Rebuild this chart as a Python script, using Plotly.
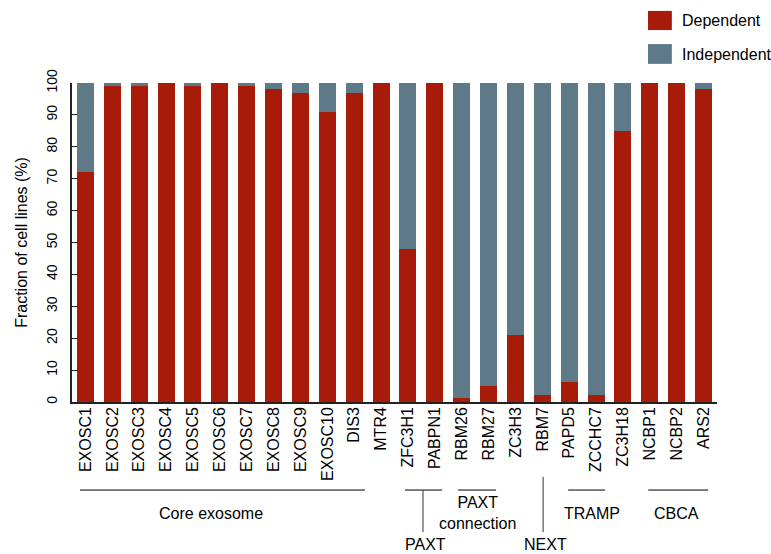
import plotly.graph_objects as go

genes = ["EXOSC1", "EXOSC2", "EXOSC3", "EXOSC4", "EXOSC5", "EXOSC6", "EXOSC7",
         "EXOSC8", "EXOSC9", "EXOSC10", "DIS3", "MTR4", "ZFC3H1", "PABPN1",
         "RBM26", "RBM27", "ZC3H3", "RBM7", "PAPD5", "ZCCHC7", "ZC3H18",
         "NCBP1", "NCBP2", "ARS2"]
dependent = [72, 99, 99, 100, 99, 100, 99, 98, 97, 91, 97, 100, 48, 100,
             1.2, 5, 21, 2.2, 6.3, 2.2, 85, 100, 100, 98]
independent = [28, 1, 1, 0, 1, 0, 1, 2, 3, 9, 3, 0, 52, 0,
               98.8, 95, 79, 97.8, 93.7, 97.8, 15, 0, 0, 2]
y_ticks = [0, 10, 20, 30, 40, 50, 60, 70, 80, 90, 100]

RED = "#A61C08"
GREY = "#5E7987"
FONT = "Liberation Sans, Arial, Helvetica, sans-serif"

fig = go.Figure()
fig.add_bar(x=genes, y=dependent, name="Dependent", marker=dict(color=RED, line=dict(width=0)))
fig.add_bar(x=genes, y=independent, name="Independent", marker=dict(color=GREY, line=dict(width=0)))

shapes = []
annotations = []

def hline(x0, x1, y):
    shapes.append(dict(type="line", xref="x", yref="paper", x0=x0, x1=x1, y0=y, y1=y,
                       line=dict(color="black", width=1)))

def vline(x, y0, y1):
    shapes.append(dict(type="line", xref="x", yref="paper", x0=x, x1=x, y0=y0, y1=y1,
                       line=dict(color="#333333", width=1)))

def label(x, y, text):
    annotations.append(dict(xref="x", yref="paper", x=x, y=y, text=text, showarrow=False,
                            xanchor="center", yanchor="middle",
                            font=dict(size=16, color="black", family=FONT)))

ly = -0.276
hline(-0.2, 10.4, ly)
label(4.67, -0.348, "Core exosome")
hline(11.89, 13.27, ly)
vline(12.56, ly, -0.408)
label(12.64, -0.448, "PAXT")
hline(13.87, 15.28, ly)
label(14.6, -0.348, "PAXT<br>connection")
vline(17.03, -0.235, -0.408)
label(17.1, -0.448, "NEXT")
hline(17.96, 19.34, ly)
label(18.85, -0.348, "TRAMP")
hline(20.94, 23.17, ly)
label(22.0, -0.348, "CBCA")

# legend
for (y0, y1, col, name, yc) in [(1.166, 1.226, RED, "Dependent", 1.196),
                                (1.060, 1.122, GREY, "Independent", 1.089)]:
    shapes.append(dict(type="rect", xref="paper", yref="paper", x0=0.893, x1=0.930,
                       y0=y0, y1=y1, fillcolor=col, line=dict(width=0)))
    annotations.append(dict(xref="paper", yref="paper", x=0.943, y=yc, text=name,
                            showarrow=False, xanchor="left", yanchor="middle",
                            font=dict(size=16, color="black", family=FONT)))

fig.update_layout(
    barmode="stack",
    bargap=0.365,
    width=771, height=554,
    margin=dict(l=72, r=54, t=83, b=152),
    plot_bgcolor="white", paper_bgcolor="white",
    showlegend=False,
    font=dict(family=FONT, size=16, color="black"),
    shapes=shapes,
    annotations=annotations,
    xaxis=dict(
        type="category", range=[-0.5, 23.5], tickangle=-90,
        tickfont=dict(size=16, color="black", family=FONT),
        showline=True, linecolor="#222222", linewidth=1.5,
        ticks="", showgrid=False, zeroline=False, fixedrange=True,
        ticklabelstandoff=-3,
    ),
    yaxis=dict(
        range=[0, 100], tickvals=y_ticks, ticktext=[str(v) for v in y_ticks],
        tickangle=-90, tickfont=dict(size=14, color="black", family=FONT),
        showline=True, linecolor="#222222", linewidth=1.5,
        ticks="inside", ticklen=5, tickcolor="#222222", tickwidth=1.2,
        ticklabelstandoff=8,
        showgrid=False, zeroline=False,
        title=dict(text="Fraction of cell lines (%)", standoff=12,
                   font=dict(size=16, color="black", family=FONT)),
    ),
)

fig.write_html("out.html", config={"displayModeBar": False},
               post_script="document.body.style.margin='0px';")
